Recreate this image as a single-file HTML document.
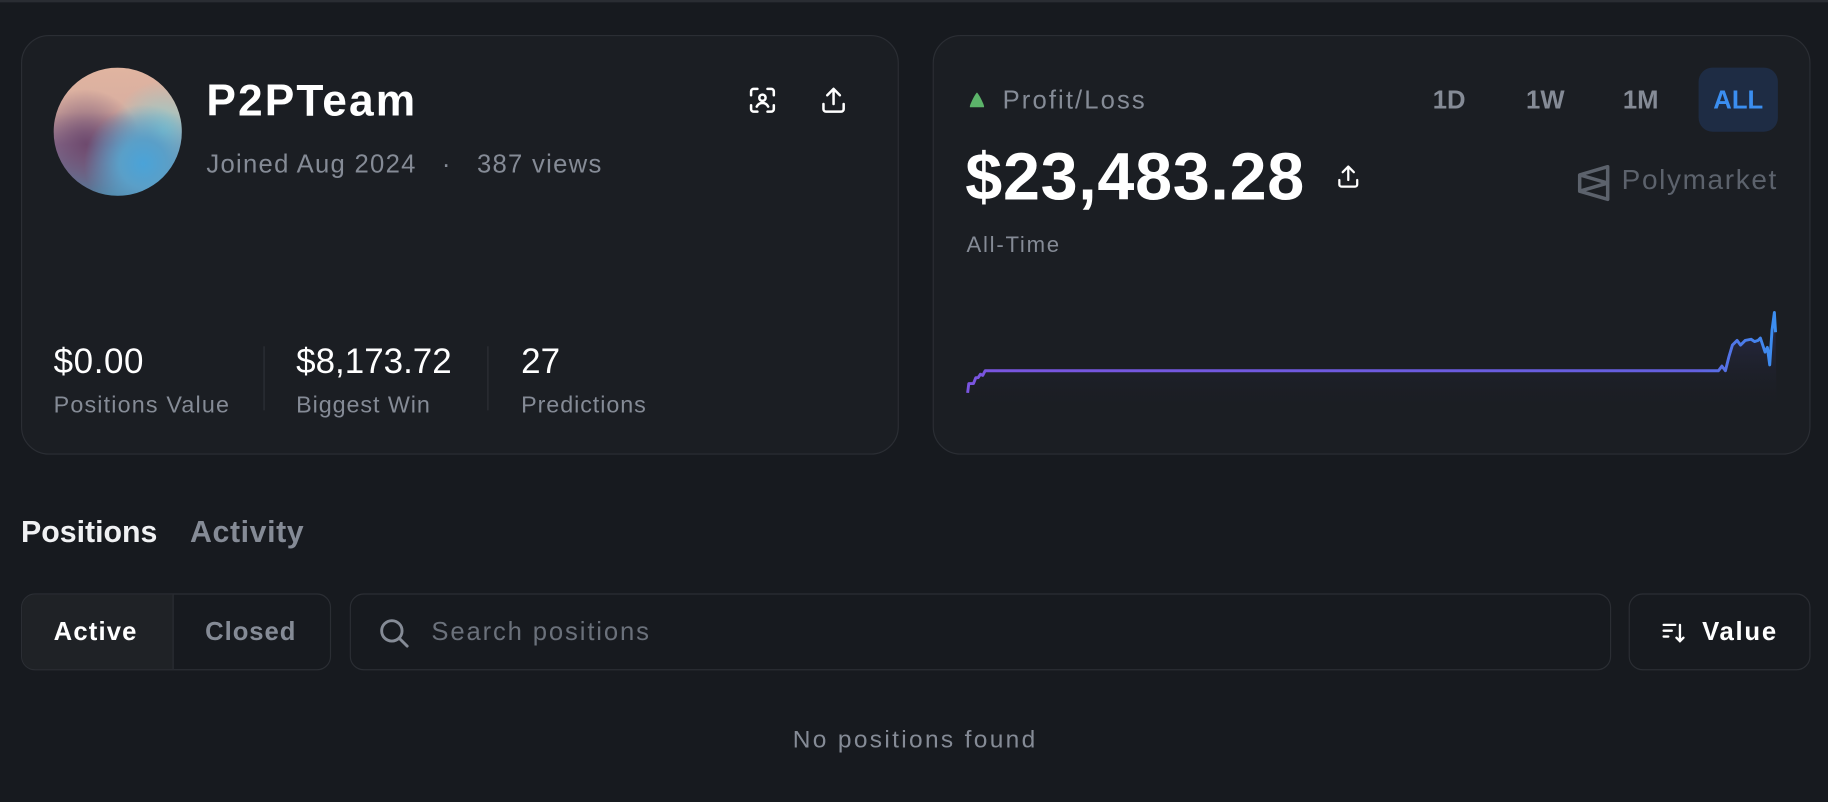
<!DOCTYPE html>
<html><head><meta charset="utf-8"><style>
html,body{margin:0;padding:0;background:#171a1f;width:1828px;height:802px;overflow:hidden}
#w{position:absolute;left:0;top:0;width:1568px;height:688px;transform:scale(1.16582);transform-origin:0 0;font-family:"Liberation Sans",sans-serif;color:#fff}
.a{position:absolute;white-space:nowrap}
.card{position:absolute;background:#1b1e23;border:1.5px solid #2b2e34;border-radius:24px;box-sizing:border-box}
.g{color:#858b96}
</style></head><body><div id="w">
<div class="a" style="left:0;top:0;width:1568px;height:2px;background:#2a2d33"></div>
<div class="card" style="left:18px;top:30px;width:753px;height:360px"></div>
<div class="card" style="left:800px;top:30px;width:753px;height:360px"></div>
<div class="a" style="left:46px;top:58px;width:110px;height:110px;border-radius:50%;background:radial-gradient(circle at 70% 75%,#4aa3d8 0,#5a9fc8 18%,transparent 45%),radial-gradient(circle at 25% 60%,#6e4a6e 0,transparent 45%),radial-gradient(circle at 85% 50%,#8fd0d0 0,transparent 40%),linear-gradient(180deg,#e0b4a0 0,#d8aea0 35%,#8a7090 60%,#4f7f9e 100%)"></div>
<div class="a" style="left:177px;top:64px;font-size:38px;font-weight:bold;line-height:46px;letter-spacing:1.8px">P2PTeam</div>
<div class="a g" style="left:177px;top:127px;font-size:22px;line-height:28px;letter-spacing:1.1px">Joined Aug 2024 &nbsp;&nbsp;·&nbsp;&nbsp; 387 views</div>
<svg class="a" style="left:641px;top:73px" width="26" height="26" viewBox="0 0 24 24" fill="none" stroke="#fff" stroke-width="2" stroke-linecap="round"><path d="M3 8V5a2 2 0 0 1 2-2h3M16 3h3a2 2 0 0 1 2 2v3M21 16v3a2 2 0 0 1-2 2h-3M8 21H5a2 2 0 0 1-2-2v-3"/><circle cx="12" cy="10" r="2.5"/><path d="M7.5 17a5 5 0 0 1 9 0"/></svg>
<svg class="a" style="left:702px;top:73px" width="26" height="26" viewBox="0 0 24 24" fill="none" stroke="#fff" stroke-width="2" stroke-linecap="round" stroke-linejoin="round"><path d="M12 15V3M7 8l5-5 5 5M4 15v4a2 2 0 0 0 2 2h12a2 2 0 0 0 2-2v-4"/></svg>
<div class="a" style="left:46px;top:292px;font-size:30px;line-height:38px;letter-spacing:0.5px">$0.00</div>
<div class="a g" style="left:46px;top:335px;font-size:20px;line-height:26px;letter-spacing:1px">Positions Value</div>
<div class="a" style="left:226px;top:297px;width:1px;height:55px;background:#2e3137"></div>
<div class="a" style="left:254px;top:292px;font-size:30px;line-height:38px">$8,173.72</div>
<div class="a g" style="left:254px;top:335px;font-size:20px;line-height:26px;letter-spacing:0.8px">Biggest Win</div>
<div class="a" style="left:418px;top:297px;width:1px;height:55px;background:#2e3137"></div>
<div class="a" style="left:447px;top:292px;font-size:30px;line-height:38px">27</div>
<div class="a g" style="left:447px;top:335px;font-size:20px;line-height:26px;letter-spacing:0.8px">Predictions</div>

<svg class="a" style="left:830px;top:78px" width="16" height="16" viewBox="0 0 16 16"><path d="M8 1.5C9 1.5 15 13 14 14H2C1 13 7 1.5 8 1.5Z" fill="#5cb46a"/></svg>
<div class="a g" style="left:860px;top:72px;font-size:22px;line-height:28px;letter-spacing:1.8px">Profit/Loss</div>
<div class="a g" style="left:1229px;top:72px;font-size:22px;line-height:28px;font-weight:bold">1D</div>
<div class="a g" style="left:1309px;top:72px;font-size:22px;line-height:28px;font-weight:bold">1W</div>
<div class="a g" style="left:1392px;top:72px;font-size:22px;line-height:28px;font-weight:bold">1M</div>
<div class="a" style="left:1457px;top:58px;width:68px;height:55px;border-radius:12px;background:#1e2c44;color:#3b8ef0;font-size:22px;font-weight:bold;line-height:55px;text-align:center">ALL</div>
<div class="a" style="left:828px;top:119px;font-size:57px;font-weight:bold;line-height:66px;letter-spacing:0.6px">$23,483.28</div>
<svg class="a" style="left:1145px;top:140px" width="23" height="23" viewBox="0 0 24 24" fill="none" stroke="#fff" stroke-width="2" stroke-linecap="round" stroke-linejoin="round"><path d="M12 15V3M7 8l5-5 5 5M4 15v4a2 2 0 0 0 2 2h12a2 2 0 0 0 2-2v-4"/></svg>
<svg class="a" style="left:1353px;top:141px" width="28" height="32" viewBox="0 0 28 32" fill="none" stroke="#5c626c" stroke-width="3" stroke-linejoin="round"><path d="M26 2L2 9V23L26 30Z M2 9L26 16L2 23"/></svg>
<div class="a" style="left:1391px;top:140px;font-size:24px;line-height:30px;color:#5c626c;letter-spacing:1.4px">Polymarket</div>
<div class="a g" style="left:829px;top:199px;font-size:19px;line-height:24px;letter-spacing:1.5px">All-Time</div>
<svg class="a" style="left:826px;top:260px" width="702" height="95" viewBox="826 260 702 95">
<defs><linearGradient id="f" x1="0" y1="0" x2="0" y2="1"><stop offset="0" stop-color="#2c2c50" stop-opacity="1"/><stop offset="1" stop-color="#1b1e23" stop-opacity="0"/></linearGradient>
<linearGradient id="s" x1="0" y1="0" x2="1" y2="0"><stop offset="0" stop-color="#7a55e0"/><stop offset=".9" stop-color="#6460e0"/><stop offset="1" stop-color="#3b8ef0"/></linearGradient></defs>
<path d="M830 337L831 329L835 329L837 324L839 324L841 321L843 322L845 318L1474 318L1477 314L1480 318L1483 306L1486 296L1490 292L1493 296L1497 292L1502 291L1505 293L1508 292L1510 290L1512 296L1514 302L1516 298L1518 313L1520 283L1522 268L1523 285L1524 352L830 352Z" fill="url(#f)"/>
<path d="M830 337L831 329L835 329L837 324L839 324L841 321L843 322L845 318L1474 318L1477 314L1480 318L1483 306L1486 296L1490 292L1493 296L1497 292L1502 291L1505 293L1508 292L1510 290L1512 296L1514 302L1516 298L1518 313L1520 283L1522 268L1523 285" fill="none" stroke="url(#s)" stroke-width="2.5" stroke-linejoin="round"/>
</svg>

<div class="a" style="left:18px;top:440px;font-size:26px;font-weight:bold;line-height:32px;color:#f0f1f3">Positions</div>
<div class="a g" style="left:163px;top:440px;font-size:26px;font-weight:bold;line-height:32px;letter-spacing:0.5px">Activity</div>
<div class="a" style="left:18px;top:509px;width:266px;height:66px;border:1.5px solid #2b2e34;border-radius:12px;box-sizing:border-box;overflow:hidden">
<div class="a" style="left:0;top:0;width:129px;height:64px;background:#1f2226;border-right:1.5px solid #2b2e34"></div>
<div class="a" style="left:27px;top:18px;font-size:22px;font-weight:bold;line-height:28px;letter-spacing:1px">Active</div>
<div class="a g" style="left:157px;top:18px;font-size:22px;font-weight:bold;line-height:28px;letter-spacing:0.8px">Closed</div></div>
<div class="a" style="left:300px;top:509px;width:1082px;height:66px;border:1.5px solid #2b2e34;border-radius:12px;box-sizing:border-box"></div>
<svg class="a" style="left:323px;top:528px" width="30" height="30" viewBox="0 0 24 24" fill="none" stroke="#858b96" stroke-width="2" stroke-linecap="round"><circle cx="10.5" cy="10.5" r="7"/><path d="M16 16l5 5"/></svg>
<div class="a" style="left:370px;top:528px;font-size:22px;line-height:28px;color:#6b717b;letter-spacing:1.6px">Search positions</div>
<div class="a" style="left:1397px;top:509px;width:156px;height:66px;border:1.5px solid #2b2e34;border-radius:12px;box-sizing:border-box"></div>
<svg class="a" style="left:1424px;top:531px" width="24" height="24" viewBox="0 0 24 24" fill="none" stroke="#fff" stroke-width="2" stroke-linecap="round"><path d="M3 5h10M3 10h7M3 15h4M17 5v14M14 16l3 3 3-3"/></svg>
<div class="a" style="left:1460px;top:528px;font-size:22px;font-weight:bold;line-height:28px;letter-spacing:1.5px">Value</div>
<div class="a g" style="left:0;width:1570px;top:621px;font-size:21px;line-height:27px;text-align:center;letter-spacing:2px">No positions found</div>
</div></body></html>
